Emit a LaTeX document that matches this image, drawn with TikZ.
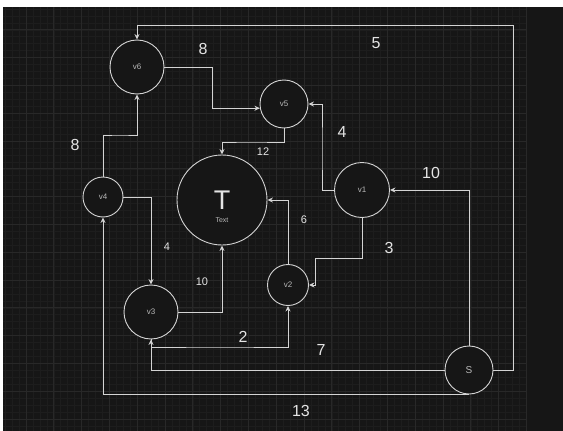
\documentclass[tikz,border=0pt]{standalone}
\usepackage{fontspec}
\setmainfont{Liberation Sans}
\usepackage{tikz}
\usetikzlibrary{arrows.meta, positioning, calc}
\definecolor{canvasbg}{RGB}{22, 22, 22}
\definecolor{gridminor}{RGB}{29, 29, 29}
\definecolor{gridmajor}{RGB}{40, 40, 40}
\definecolor{edgegray}{RGB}{212, 212, 212}
\definecolor{textgray}{RGB}{228, 228, 228}
\definecolor{smallgray}{RGB}{185, 185, 185}

\begin{document}
\begin{tikzpicture}[
  x = 1pt, y = -1pt,
  every node/.style = {font=\fontsize{8}{8}\selectfont, text=smallgray},
  vertex/.style  = {draw=edgegray, circle, fill=canvasbg, line width=0.9pt,
                    inner sep=0pt},
  arrow/.style   = {-{Stealth[length=5.5pt, width=5pt]}, draw=edgegray, line width=0.9pt},
  plainline/.style = {draw=edgegray, line width=0.9pt},
  wbig/.style    = {font=\fontsize{16}{16}\selectfont, text=textgray},
  wsmall/.style  = {font=\fontsize{11}{11}\selectfont, text=textgray}
]
\useasboundingbox (0,0) rectangle (563,431);

% Canvas
\fill[white] (0,0) rectangle (563,431);
\fill[canvasbg] (3,7) rectangle (563,431);
\begin{scope}
  \clip (3,7) rectangle (527,431);
  \foreach \gi in {-4,...,76} {
    \draw[gridminor, line width=0.6pt] ({26+6.95*\gi},7) -- ({26+6.95*\gi},431);
    \draw[gridminor, line width=0.6pt] (3,{2+6.95*\gi}) -- (527,{2+6.95*\gi});
  }
  \foreach \gi in {-1,...,19} {
    \draw[gridmajor, line width=0.8pt] ({26+27.8*\gi},7) -- ({26+27.8*\gi},431);
    \draw[gridmajor, line width=0.8pt] (3,{2+27.8*\gi}) -- (527,{2+27.8*\gi});
  }
\end{scope}

% Nodes
\node[vertex, minimum size=54pt] (v6) at (137,67)  {v6};
\node[vertex, minimum size=48pt] (v5) at (284,104) {v5};
\node[vertex, minimum size=55pt] (v1) at (362,190) {v1};
\node[vertex, minimum size=90pt, font=\fontsize{27}{27}\selectfont, text=textgray]
  (T) at (222,200) {T};
\node[font=\fontsize{7}{7}\selectfont] (Ttext) at (222,220) {Text};
\node[vertex, minimum size=40pt] (v4) at (103,197) {v4};
\node[vertex, minimum size=54pt] (v3) at (151,312) {v3};
\node[vertex, minimum size=41pt] (v2) at (288,285) {v2};
\node[vertex, minimum size=48pt, font=\fontsize{10}{10}\selectfont] (S) at (469,370) {S};

% Bends
\coordinate (k1) at (513,25);
\coordinate (k2) at (212,0);
\coordinate (k3) at (120,135);
\coordinate (k4) at (250,142);
\coordinate (k5) at (322,150);
\coordinate (k6) at (315,258);
\coordinate (k7) at (220,347);

% Arrows
\draw[arrow] (S.east) -| (k1) -| (v6.north);
\draw[arrow] (v6.east) -| (k2 |- v5.190) -- (v5.190);
\draw[arrow] (v4.north) |- (k3) -| (v6.south);
\draw[arrow] (v5.south) |- (k4) -| (T.north);
\draw[arrow] (v1.west) -| (k5) |- (v5.east);
\draw[arrow] (S.north) |- (v1.east);
\draw[arrow] (v1.south) |- (k6) |- (v2.east);
\draw[arrow] (v2.north) |- (T.east);
\draw[arrow] (v4.east) -| (v3.north);
\draw[arrow] (v3.east) -| (T.south);
\draw[arrow] (v3.south) |- (k7) -| (v2.south);
\draw[arrow] (S.west) -| (v3.south);
\draw[arrow] (S.south) -| (v4.south);

% Weights
\node[wbig]   (l5)   at (376,43)  {5};
\node[wbig]   (l8a)  at (203,49)  {8};
\node[wbig]   (l8b)  at (75,145)  {8};
\node[wsmall] (l12)  at (263,152) {12};
\node[wbig]   (l4a)  at (342,132) {4};
\node[wbig]   (l10a) at (431,173) {10};
\node[wbig]   (l3)   at (389,248) {3};
\node[wsmall] (l6)   at (304,220) {6};
\node[wsmall] (l4b)  at (167,247) {4};
\node[wsmall] (l10b) at (202,282) {10};
\node[wbig]   (l2)   at (243,337) {2};
\node[wbig]   (l7)   at (321,350) {7};
\node[wbig]   (l13)  at (301,411) {13};

\end{tikzpicture}
\end{document}
